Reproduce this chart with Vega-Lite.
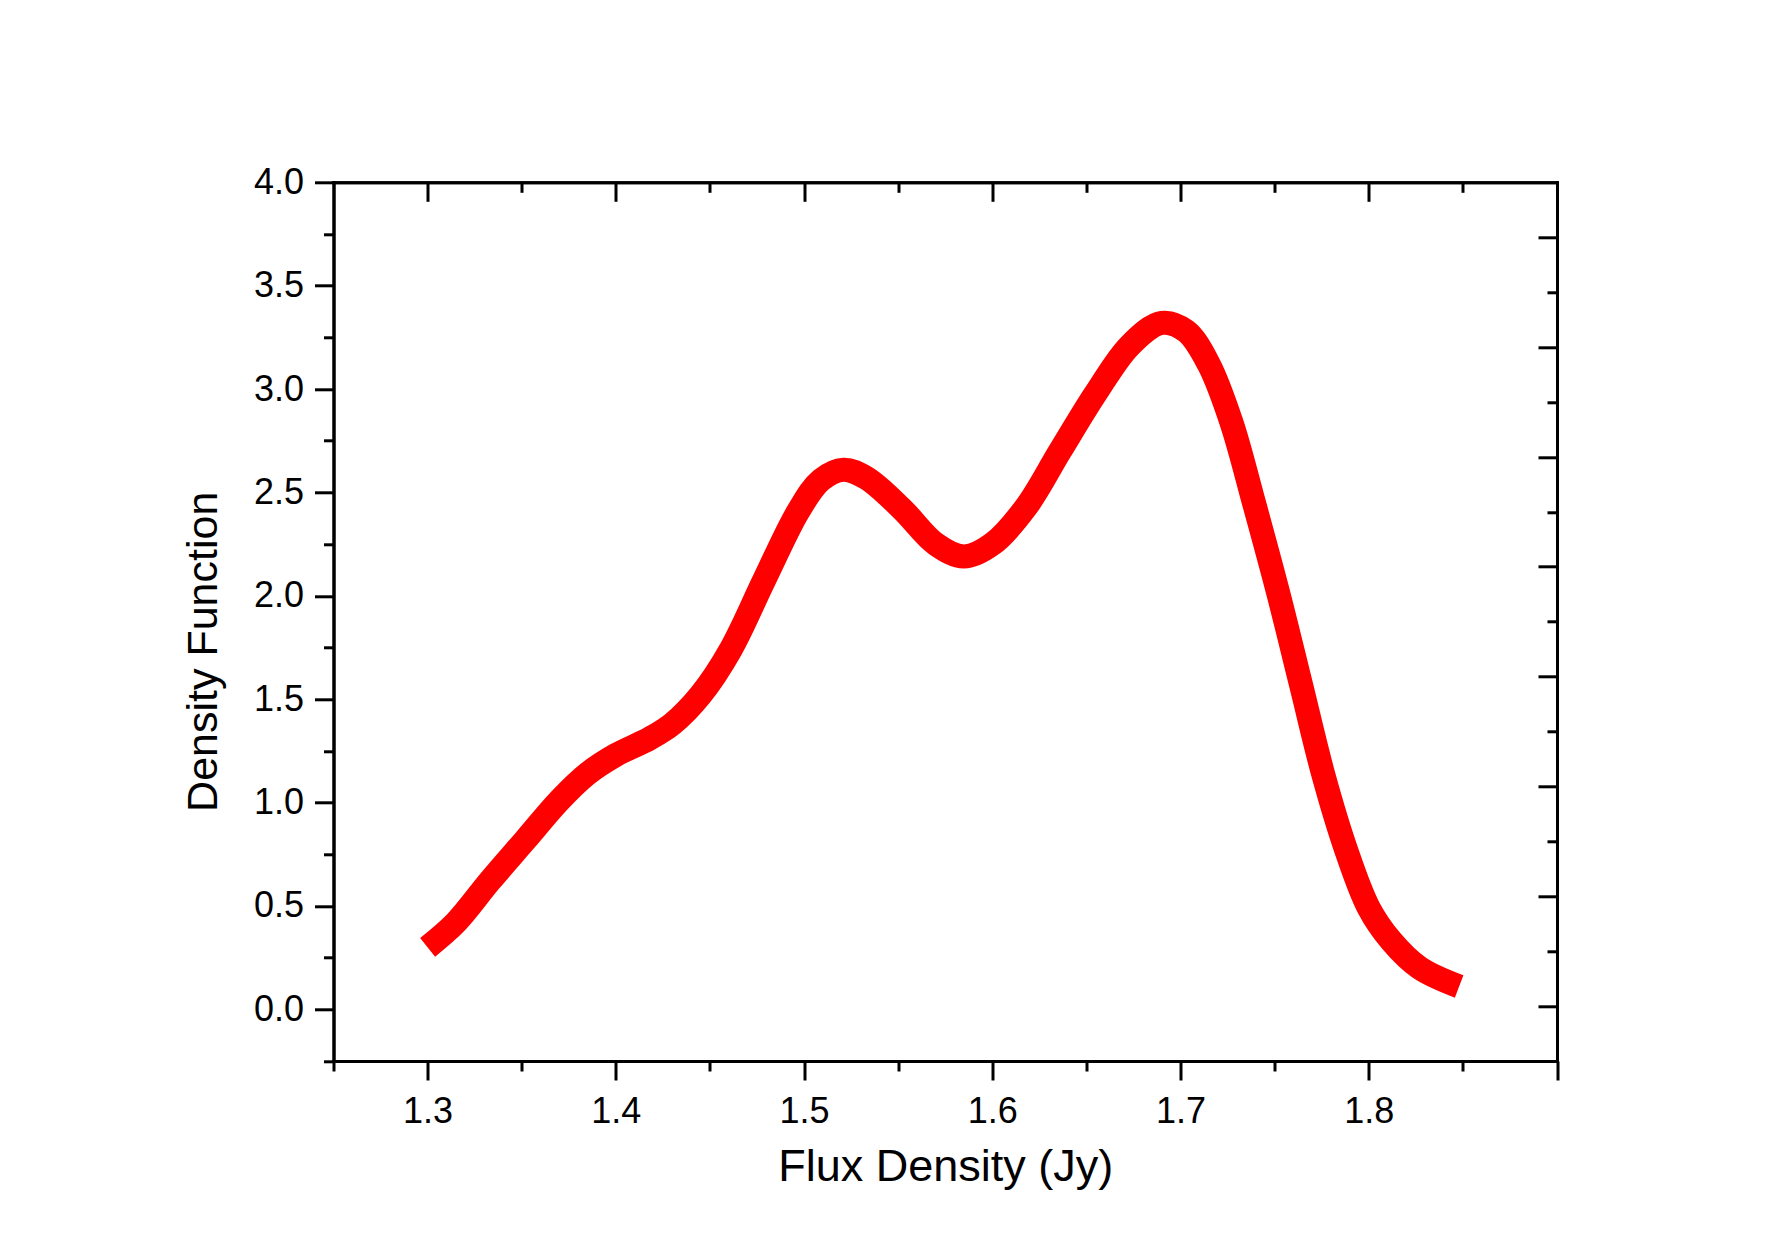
{
  "$schema": "https://vega.github.io/schema/vega-lite/v6.json",
  "autosize": {"type": "none"},
  "width": 1223.5,
  "height": 878.7,
  "padding": {"left": 333.5, "top": 182.3, "right": 230, "bottom": 182},
  "background": "white",
  "config": {
    "view": {"stroke": null},
    "axis": {
      "grid": false,
      "domainColor": "black",
      "domainWidth": 3,
      "domainCap": "square",
      "tickColor": "black",
      "tickWidth": 3,
      "labelFont": "Liberation Sans",
      "labelFontSize": 36,
      "labelColor": "black",
      "labelFlush": false,
      "labelOverlap": false,
      "titleFont": "Liberation Sans",
      "titleFontSize": 43,
      "titleFontWeight": "normal",
      "titleColor": "black"
    }
  },
  "data": {
    "values": [
      {"flux": 1.300, "density": 0.30},
      {"flux": 1.315, "density": 0.42},
      {"flux": 1.333, "density": 0.62},
      {"flux": 1.352, "density": 0.82},
      {"flux": 1.370, "density": 1.01},
      {"flux": 1.385, "density": 1.14},
      {"flux": 1.400, "density": 1.23},
      {"flux": 1.418, "density": 1.31},
      {"flux": 1.430, "density": 1.38},
      {"flux": 1.445, "density": 1.52},
      {"flux": 1.461, "density": 1.74},
      {"flux": 1.479, "density": 2.08},
      {"flux": 1.497, "density": 2.41},
      {"flux": 1.509, "density": 2.56},
      {"flux": 1.521, "density": 2.61},
      {"flux": 1.533, "density": 2.57},
      {"flux": 1.552, "density": 2.42},
      {"flux": 1.570, "density": 2.25},
      {"flux": 1.585, "density": 2.19},
      {"flux": 1.600, "density": 2.25},
      {"flux": 1.618, "density": 2.43},
      {"flux": 1.636, "density": 2.70},
      {"flux": 1.655, "density": 2.98},
      {"flux": 1.673, "density": 3.21},
      {"flux": 1.690, "density": 3.32},
      {"flux": 1.703, "density": 3.28},
      {"flux": 1.715, "density": 3.12},
      {"flux": 1.727, "density": 2.84},
      {"flux": 1.739, "density": 2.45},
      {"flux": 1.752, "density": 2.01},
      {"flux": 1.764, "density": 1.57},
      {"flux": 1.776, "density": 1.13},
      {"flux": 1.788, "density": 0.77},
      {"flux": 1.800, "density": 0.49},
      {"flux": 1.812, "density": 0.33},
      {"flux": 1.827, "density": 0.20},
      {"flux": 1.848, "density": 0.11}
    ]
  },
  "resolve": {"axis": {"x": "independent", "y": "independent"}},
  "layer": [
    {
      "mark": {"type": "line", "color": "#ff0000", "strokeWidth": 24, "strokeCap": "butt", "strokeJoin": "round", "interpolate": "catmull-rom"},
      "encoding": {
        "x": {
          "field": "flux", "type": "quantitative",
          "scale": {"domain": [1.25, 1.9], "nice": false, "zero": false},
          "axis": {
            "orient": "bottom",
            "values": [1.3, 1.4, 1.5, 1.6, 1.7, 1.8, 1.9],
            "labelExpr": "datum.value > 1.85 ? '' : format(datum.value, '.1f')",
            "tickSize": 19,
            "labelPadding": 14,
            "title": "Flux Density (Jy)",
            "titleFontSize": 45,
            "titlePadding": 15
          }
        },
        "y": {
          "field": "density", "type": "quantitative",
          "scale": {"domain": [-0.25, 4.0], "nice": false, "zero": false},
          "axis": {
            "orient": "left",
            "values": [0, 0.5, 1.0, 1.5, 2.0, 2.5, 3.0, 3.5, 4.0],
            "format": ".1f",
            "tickSize": 19,
            "labelPadding": 11,
            "title": "Density Function",
            "titlePadding": 28,
            "titleY": 469
          }
        }
      }
    },
    {
      "mark": {"type": "line", "strokeOpacity": 0},
      "encoding": {
        "x": {
          "field": "flux", "type": "quantitative",
          "scale": {"domain": [1.25, 1.9], "nice": false, "zero": false},
          "axis": {"orient": "bottom", "values": [1.25, 1.35, 1.45, 1.55, 1.65, 1.75, 1.85], "tickSize": 10, "labels": false, "title": null}
        },
        "y": {
          "field": "density", "type": "quantitative",
          "scale": {"domain": [-0.25, 4.0], "nice": false, "zero": false},
          "axis": {"orient": "left", "values": [-0.25, 0.25, 0.75, 1.25, 1.75, 2.25, 2.75, 3.25, 3.75], "tickSize": 10, "labels": false, "title": null}
        }
      }
    },
    {
      "mark": {"type": "line", "strokeOpacity": 0},
      "encoding": {
        "x": {
          "field": "flux", "type": "quantitative",
          "scale": {"domain": [1.25, 1.9], "nice": false, "zero": false},
          "axis": {"orient": "top", "values": [1.3, 1.4, 1.5, 1.6, 1.7, 1.8], "tickSize": -19, "labels": false, "title": null}
        },
        "y": {
          "field": "density", "type": "quantitative",
          "scale": {"domain": [-0.25, 4.0], "nice": false, "zero": false},
          "axis": {"orient": "right", "values": [0.015625, 0.546875, 1.078125, 1.609375, 2.140625, 2.671875, 3.203125, 3.734375], "tickSize": -19, "labels": false, "title": null}
        }
      }
    },
    {
      "mark": {"type": "line", "strokeOpacity": 0},
      "encoding": {
        "x": {
          "field": "flux", "type": "quantitative",
          "scale": {"domain": [1.25, 1.9], "nice": false, "zero": false},
          "axis": {"orient": "top", "values": [1.35, 1.45, 1.55, 1.65, 1.75, 1.85], "tickSize": -10, "labels": false, "title": null}
        },
        "y": {
          "field": "density", "type": "quantitative",
          "scale": {"domain": [-0.25, 4.0], "nice": false, "zero": false},
          "axis": {"orient": "right", "values": [0.28125, 0.8125, 1.34375, 1.875, 2.40625, 2.9375, 3.46875], "tickSize": -10, "labels": false, "title": null}
        }
      }
    }
  ]
}
